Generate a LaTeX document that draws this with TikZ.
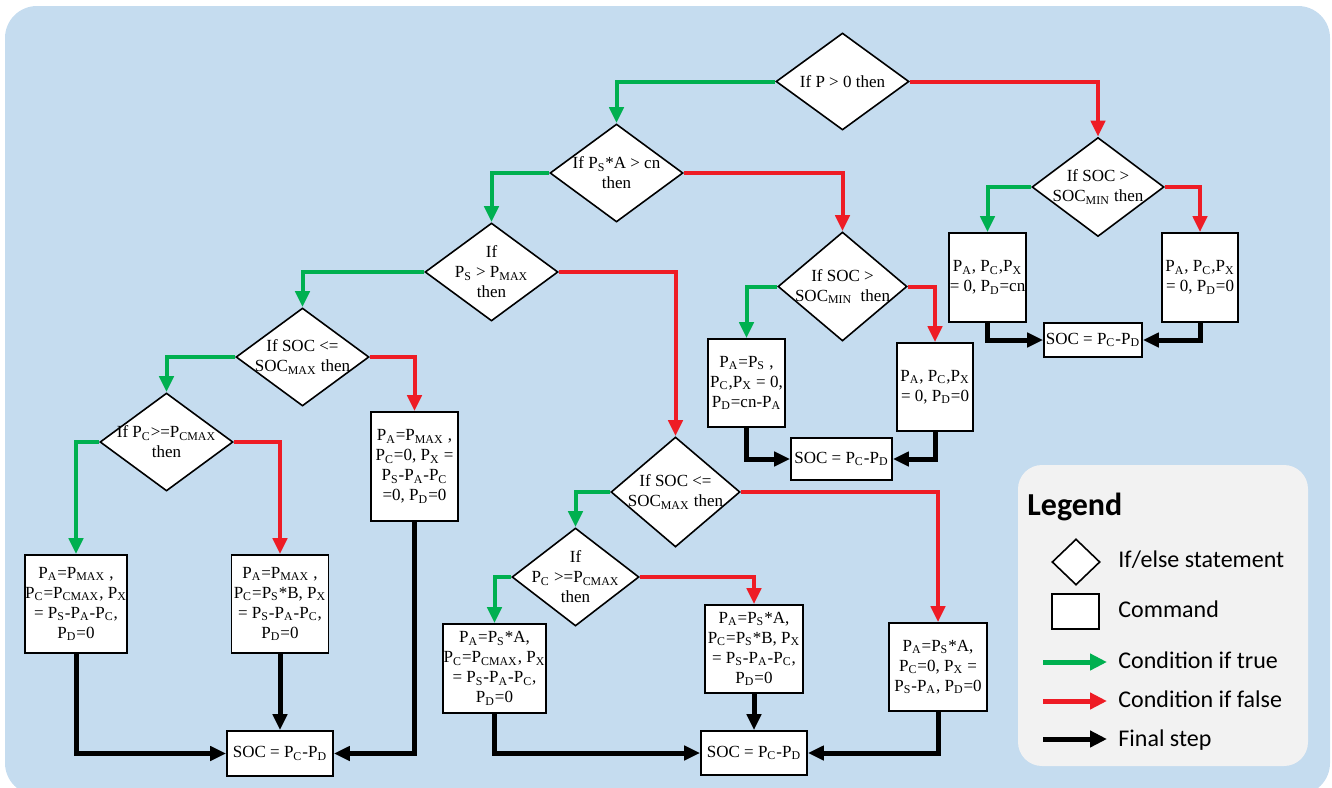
\documentclass[tikz,border=0pt]{standalone}
\usepackage{fontspec}
\setmainfont{Liberation Serif}
\newfontfamily\legendfont{Carlito}
\usepackage{tikz}
\usepackage{xcolor}
\usetikzlibrary{shapes.geometric,arrows.meta}

\definecolor{bgblue}{HTML}{C5DCEF}
\definecolor{legendgray}{HTML}{F2F2F2}
\definecolor{tgreen}{HTML}{00B050}
\definecolor{fred}{HTML}{EE1C25}

\newcommand{\ix}[1]{\textsubscript{#1}}

\begin{document}
\begin{tikzpicture}[
            x=0.5pt, y=-0.5pt,
            txt/.style={font=\fontsize{8.5}{10}\selectfont, align=center},
            decision/.style 2 args={diamond, draw, fill=white, line width=0.8pt, inner sep=0pt,
                minimum width=#1*0.5pt, minimum height=#2*0.5pt},
            command/.style 2 args={rectangle, draw, fill=white, line width=0.8pt, inner sep=0pt, txt,
                minimum width=#1*0.5pt, minimum height=#2*0.5pt},
            truearrow/.style={draw=tgreen, line width=2pt, -{Triangle[length=8pt,width=7pt]}},
            falsearrow/.style={draw=fred, line width=2pt, -{Triangle[length=8pt,width=7pt]}},
            finalarrow/.style={draw=black, line width=2.5pt, -{Triangle[length=8pt,width=7pt]}},
            legarrow/.style={line width=2.5pt, -{Triangle[length=8.5pt,width=8pt]}},
            legtxt/.style={font=\legendfont\fontsize{12}{14}\selectfont, anchor=base west, inner sep=0pt}
        ]

            \useasboundingbox (0,0) rectangle (1332,787);
            \fill[bgblue, rounded corners=16pt] (5,6) rectangle (1330,795);
            \fill[legendgray, rounded corners=12pt] (1018,465) rectangle (1308,766);

            \node[decision={133}{97}, label={[txt]center:{If P > 0 then}}] (ifP) at (842.5,81.5) {};
            \node[decision={133}{98}, label={[txt]center:{If P\ix{S}*A > cn\\then}}] (ifPSA) at (616.5,173) {};
            \node[decision={132}{99}, label={[txt]center:{If SOC >\\SOC\ix{MIN} then}}] (socMinR) at (1098,187) {};
            \node[decision={129}{109}, label={[txt]center:{If SOC >\\SOC\ix{MIN}\ \ then}}] (socMinM) at (842.5,286.5) {};
            \node[decision={133}{98}, label={[txt]center:{If\\P\ix{S} > P\ix{MAX}\\then}}] (ifPmax) at (491.5,272) {};
            \node[decision={133}{98}, label={[txt]center:{If SOC <=\\SOC\ix{MAX} then}}] (socMaxL) at (302.5,357) {};
            \node[decision={129}{110}, label={[txt]center:{If SOC <=\\SOC\ix{MAX} then}}] (socMaxM) at (675.5,492) {};
            \node[decision={133}{98}, label={[txt]center:{If P\ix{C}>=P\ix{CMAX}\\then}}] (ifPcL) at (166.5,442) {};
            \node[decision={127}{98}, label={[txt]center:{If\\P\ix{C} >=P\ix{CMAX}\\then}}] (ifPcM) at (575.5,577) {};

            \node[command={77}{89}] (cmdRa) at (987.5,277.5) {P\ix{A}, P\ix{C},P\ix{X}\\= 0, P\ix{D}=cn};
            \node[command={76}{89}] (cmdRb) at (1200,277.5) {P\ix{A}, P\ix{C},P\ix{X}\\= 0, P\ix{D}=0};
            \node[command={98}{34}] (socR) at (1093,340) {SOC = P\ix{C}-P\ix{D}};

            \node[command={77}{88}] (cmdNa) at (746.5,383) {P\ix{A}=P\ix{S} ,\\P\ix{C},P\ix{X} = 0,\\P\ix{D}=cn-P\ix{A}};
            \node[command={76}{88}] (cmdNb) at (935,387) {P\ix{A}, P\ix{C},P\ix{X}\\= 0, P\ix{D}=0};
            \node[command={101}{42}] (socN) at (841.5,459) {SOC = P\ix{C}-P\ix{D}};

            \node[command={87}{109}] (cmdMax) at (414.5,466.5) {P\ix{A}=P\ix{MAX} ,\\P\ix{C}=0, P\ix{X} =\\P\ix{S}-P\ix{A}-P\ix{C}\\=0, P\ix{D}=0};
            \node[command={102}{98}] (cmdLa) at (76,604) {P\ix{A}=P\ix{MAX} ,\\P\ix{C}=P\ix{CMAX}, P\ix{X}\\= P\ix{S}-P\ix{A}-P\ix{C},\\P\ix{D}=0};
            \node[command={97}{98}] (cmdLb) at (280,604) {P\ix{A}=P\ix{MAX} ,\\P\ix{C}=P\ix{S}*B, P\ix{X}\\= P\ix{S}-P\ix{A}-P\ix{C},\\P\ix{D}=0};
            \node[command={106}{45}] (socL) at (280,753.5) {SOC = P\ix{C}-P\ix{D}};

            \node[command={103}{89}] (cmdMa) at (494.5,668.5) {P\ix{A}=P\ix{S}*A,\\P\ix{C}=P\ix{CMAX}, P\ix{X}\\= P\ix{S}-P\ix{A}-P\ix{C},\\P\ix{D}=0};
            \node[command={98}{88}] (cmdMb) at (754,649) {P\ix{A}=P\ix{S}*A,\\P\ix{C}=P\ix{S}*B, P\ix{X}\\= P\ix{S}-P\ix{A}-P\ix{C},\\P\ix{D}=0};
            \node[command={98}{88}] (cmdMc) at (938,667) {P\ix{A}=P\ix{S}*A,\\P\ix{C}=0, P\ix{X} =\\P\ix{S}-P\ix{A}, P\ix{D}=0};
            \node[command={106}{44}] (socM) at (754,753) {SOC = P\ix{C}-P\ix{D}};

            \draw[truearrow] (ifP.west) -| (ifPSA.north);
            \draw[falsearrow] (ifP.east) -| (socMinR.north);
            \draw[truearrow] (socMinR.west) -| (cmdRa.north);
            \draw[falsearrow] (socMinR.east) -| (cmdRb.north);
            \draw[finalarrow] (cmdRa.south) |- (socR.west);
            \draw[finalarrow] (cmdRb.south) |- (socR.east);

            \draw[truearrow] (ifPSA.west) -| (ifPmax.north);
            \draw[falsearrow] (ifPSA.east) -| (socMinM.north);
            \draw[truearrow] (socMinM.west) -| (cmdNa.north);
            \draw[falsearrow] (socMinM.east) -| (cmdNb.north);
            \draw[finalarrow] (cmdNa.south) |- (socN.west);
            \draw[finalarrow] (cmdNb.south) |- (socN.east);

            \draw[truearrow] (ifPmax.west) -| (socMaxL.north);
            \draw[falsearrow] (ifPmax.east) -| (socMaxM.north);
            \draw[truearrow] (socMaxL.west) -| (ifPcL.north);
            \draw[falsearrow] (socMaxL.east) -| (cmdMax.north);
            \draw[truearrow] (ifPcL.west) -| (cmdLa.north);
            \draw[falsearrow] (ifPcL.east) -| (cmdLb.north);
            \draw[finalarrow] (cmdLa.south) |- (socL.west);
            \draw[finalarrow] (cmdLb.south) -- (socL.north);
            \draw[finalarrow] (cmdMax.south) |- (socL.east);

            \draw[truearrow] (socMaxM.west) -| (ifPcM.north);
            \draw[falsearrow] (socMaxM.east) -| (cmdMc.north);
            \draw[truearrow] (ifPcM.west) -| (cmdMa.north);
            \draw[falsearrow] (ifPcM.east) -| (cmdMb.north);
            \draw[finalarrow] (cmdMa.south) |- (socM.west);
            \draw[finalarrow] (cmdMb.south) -- (socM.north);
            \draw[finalarrow] (cmdMc.south) |- (socM.east);

            \node[font=\legendfont\bfseries\fontsize{16}{18}\selectfont, anchor=base west, inner sep=0pt] (legtitle) at (1027,515) {Legend};
            \node[decision={48}{46}] (legdec) at (1076,562) {};
            \node[command={47}{35}] (legcmd) at (1075.5,611.5) {};
            \node[legtxt] (legif) at (1118,567) {If/else statement};
            \node[legtxt] (legcom) at (1118,617) {Command};
            \node[legtxt] (legtrue) at (1118,668) {Condition if true};
            \node[legtxt] (legfalse) at (1118,707) {Condition if false};
            \node[legtxt] (legfinal) at (1118,746) {Final step};
            \coordinate (legTa) at (1043,662);
            \coordinate (legTb) at (1107,662);
            \coordinate (legFa) at (1043,701);
            \coordinate (legFb) at (1107,701);
            \coordinate (legEa) at (1043,739);
            \coordinate (legEb) at (1107,739);
            \draw[legarrow, tgreen] (legTa) -- (legTb);
            \draw[legarrow, fred] (legFa) -- (legFb);
            \draw[legarrow, black] (legEa) -- (legEb);
        \end{tikzpicture}
\end{document}
